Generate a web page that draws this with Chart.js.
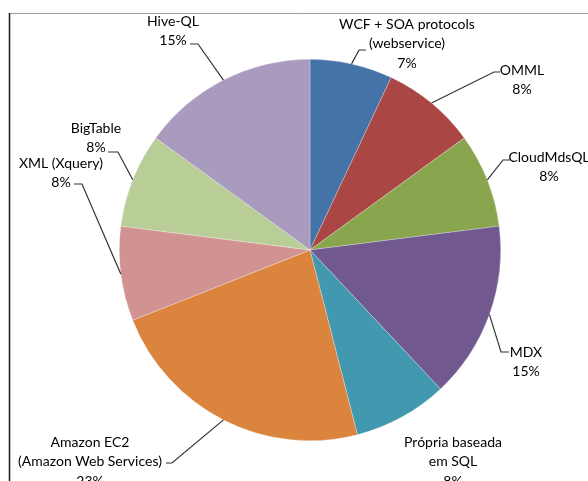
<!DOCTYPE html>
<html>
<head>
<meta charset="utf-8">
<script src="https://cdn.jsdelivr.net/npm/chart.js@4.4.1/dist/chart.umd.min.js"></script>
<style>
  html, body { margin: 0; padding: 0; background: #fff; }
  #wrap { width: 588px; height: 481px; }
</style>
</head>
<body>
<div id="wrap"><canvas id="pieChart" width="588" height="481"></canvas></div>
<script>
// data (percent shares as printed on the labels)
const categories = [
    "WCF + SOA protocols (webservice)",
    "OMML",
    "CloudMdsQL",
    "MDX",
    "Própria baseada em SQL",
    "Amazon EC2 (Amazon Web Services)",
    "XML (Xquery)",
    "BigTable",
    "Hive-QL"
];
const shares = [7, 8, 8, 15, 8, 23, 8, 8, 15];
const labelLines = [
    ["WCF + SOA protocols", "(webservice)"],
    ["OMML"],
    ["CloudMdsQL"],
    ["MDX"],
    ["Própria baseada", "em SQL"],
    ["Amazon EC2", "(Amazon Web Services)"],
    ["XML (Xquery)"],
    ["BigTable"],
    ["Hive-QL"]
];
const sliceColors = [
    "#4572A7", "#AA4643", "#89A54E", "#71588F", "#4198AF",
    "#DB843D", "#D19392", "#B9CD96", "#A99BBD"
];

// where each data label sits (x centre, first line y) and its leader elbow
const labelLayout = [
    { x: 407, y: 24,  elbow: [359, 50, 366, 50] },
    { x: 522, y: 70,  elbow: [494, 72, 500, 72] },
    { x: 549, y: 157, elbow: [503, 160, 510, 160] },
    { x: 526, y: 352, elbow: [501, 352, 509, 352] },
    { x: 453, y: 442, elbow: null },
    { x: 90,  y: 442, elbow: [172, 463, 166, 463] },
    { x: 61,  y: 163, elbow: [82, 184, 74, 184] },
    { x: 96,  y: 128, elbow: [118, 152, 108, 152] },
    { x: 173, y: 21,  elbow: [198, 44, 190, 44] }
];

const frame = {
    id: "frame",
    beforeDraw(chart) {
        const c = chart.ctx;
        c.save();
        c.strokeStyle = "#9a9a9a";
        c.lineWidth = 1;
        c.beginPath();
        c.moveTo(9, 13.5);
        c.lineTo(588, 13.5);
        c.stroke();
        c.strokeStyle = "#1a1a1a";
        c.lineWidth = 1.5;
        c.beginPath();
        c.moveTo(9.5, 13);
        c.lineTo(9.5, 481);
        c.stroke();
        c.restore();
    }
};

const pieLabels = {
    id: "pieLabels",
    afterDatasetsDraw(chart) {
        const c = chart.ctx;
        const meta = chart.getDatasetMeta(0);
        c.save();
        c.font = "14px Lato";
        c.fillStyle = "#000";
        c.textAlign = "center";
        c.textBaseline = "middle";
        meta.data.forEach((arc, i) => {
            const lay = labelLayout[i];
            const mid = (arc.startAngle + arc.endAngle) / 2;
            const ax = arc.x + Math.cos(mid) * arc.outerRadius;
            const ay = arc.y + Math.sin(mid) * arc.outerRadius;
            if (lay.elbow) {
                c.strokeStyle = "#333";
                c.lineWidth = 1.2;
                c.beginPath();
                c.moveTo(ax, ay);
                c.lineTo(lay.elbow[0], lay.elbow[1]);
                c.lineTo(lay.elbow[2], lay.elbow[3]);
                c.stroke();
            }
            const lines = labelLines[i].concat([shares[i] + "%"]);
            lines.forEach((t, k) => c.fillText(t, lay.x, lay.y + k * 19.5));
        });
        c.restore();
    }
};

new Chart(document.getElementById("pieChart"), {
    type: "pie",
    data: {
        labels: categories,
        datasets: [{
            data: shares,
            backgroundColor: sliceColors,
            borderColor: "rgba(255,255,255,0.45)",
            borderWidth: 0.6
        }]
    },
    options: {
        responsive: false,
        animation: false,
        rotation: 0,
        layout: { padding: { top: 59, bottom: 40, left: 119, right: 87 } },
        plugins: {
            legend: { display: false },
            tooltip: { enabled: false }
        }
    },
    plugins: [frame, pieLabels]
});
</script>
</body>
</html>
